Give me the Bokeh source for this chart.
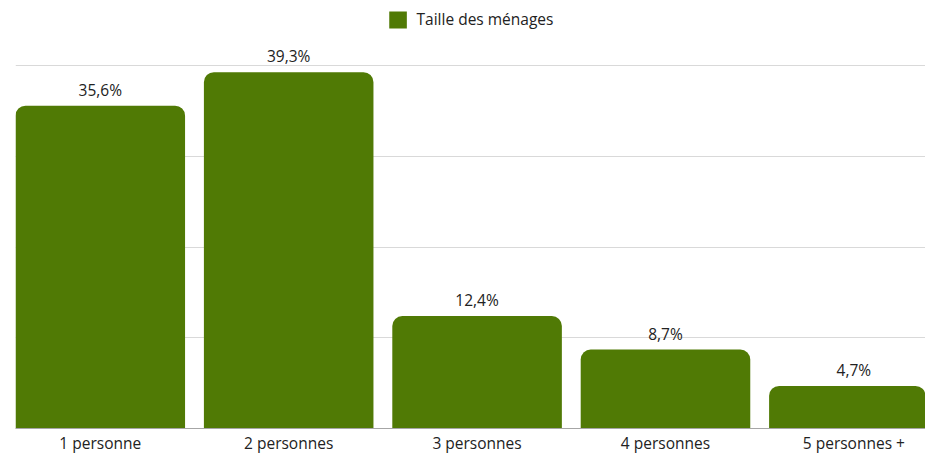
from bokeh.plotting import figure
from bokeh.models import ColumnDataSource, Range1d, FixedTicker, Legend, LegendItem
from bokeh.embed import file_html
from bokeh.resources import INLINE
from bokeh.core.properties import value

categories = ["1 personne", "2 personnes", "3 personnes", "4 personnes", "5 personnes +"]
values = [35.6, 39.3, 12.4, 8.7, 4.7]
series_name = "Taille des ménages"
grid_ticks = [0, 10, 20, 30, 40]

xs = list(range(1, len(categories) + 1))
labels = [f"{v:.1f}%".replace(".", ",") for v in values]
src = ColumnDataSource(dict(x=xs, top=values, label=labels))

FONT = "Open Sans"
GREEN = "#507a05"

p = figure(width=925, height=456, output_backend="svg", toolbar_location=None,
           x_range=Range1d(0.55, 0.55 + 910 / 188.4), y_range=Range1d(0, 47.2),
           min_border_left=15, min_border_right=0, min_border_top=0, min_border_bottom=25)
p.outline_line_color = None
p.background_fill_color = "white"
p.border_fill_color = "white"

r = p.vbar(x="x", top="top", width=0.9, source=src, fill_color=GREEN, line_color=None,
           border_radius=(10, 10, 0, 0))

p.text(x="x", y="top", text="label", source=src, text_align="center", text_baseline="bottom",
       y_offset=-5, text_font=value(FONT), text_font_size="15.5px", text_color="#222222")

p.yaxis.visible = False
p.ygrid.ticker = FixedTicker(ticks=grid_ticks)
p.ygrid.grid_line_color = "#d9d9d9"
p.ygrid.grid_line_width = 1
p.xgrid.visible = False

p.xaxis.ticker = FixedTicker(ticks=xs)
p.xaxis.major_label_overrides = {x: c for x, c in zip(xs, categories)}
p.xaxis.major_tick_line_color = None
p.xaxis.major_tick_out = 0
p.xaxis.major_tick_in = 0
p.xaxis.minor_tick_line_color = None
p.xaxis.axis_line_color = "#a6a6a6"
p.xaxis.major_label_text_font = FONT
p.xaxis.major_label_text_font_size = "15.5px"
p.xaxis.major_label_text_color = "#222222"
p.xaxis.major_label_standoff = 3

legend = Legend(items=[LegendItem(label=series_name, renderers=[r])], location="top_center",
                orientation="horizontal", glyph_width=22, glyph_height=21, label_standoff=8,
                label_text_font=FONT, label_text_font_size="15.5px", label_text_color="#222222",
                border_line_color=None, background_fill_alpha=0, margin=8, padding=4)
p.add_layout(legend)

open("out.html", "w").write(file_html(p, INLINE))
